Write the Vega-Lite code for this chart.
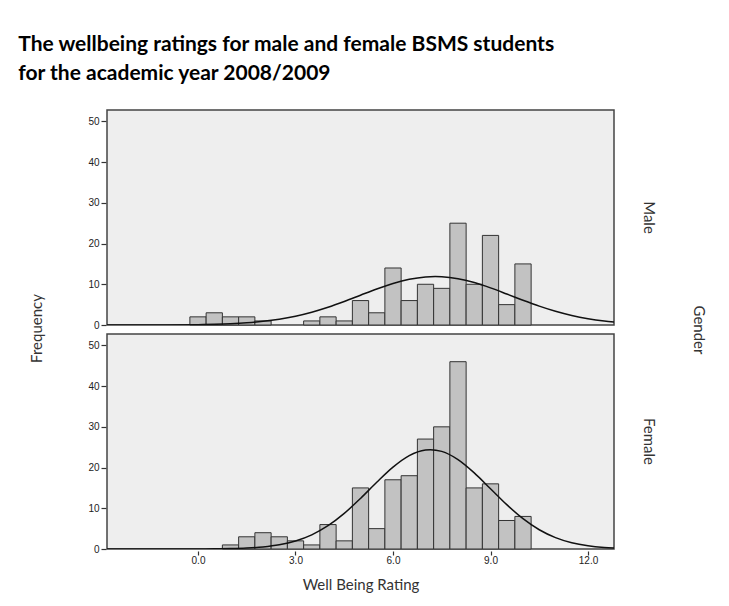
{
  "$schema": "https://vega.github.io/schema/vega-lite/v6.json",
  "padding": {"left": 18, "top": 34, "right": 10, "bottom": 8},
  "background": "white",
  "title": {
    "text": ["The wellbeing ratings for male and female BSMS students", "for the academic year 2008/2009"],
    "anchor": "start", "frame": "bounds", "font": "Lato", "fontSize": 21, "fontWeight": "bold",
    "color": "#000000", "lineHeight": 29, "offset": 25, "dx": -10
  },
  "data": {
    "values": [
      {"kind": "bar", "gender": "Male", "start": -0.25, "end": 0.25, "count": 2},
      {"kind": "bar", "gender": "Male", "start": 0.25, "end": 0.75, "count": 3},
      {"kind": "bar", "gender": "Male", "start": 0.75, "end": 1.25, "count": 2},
      {"kind": "bar", "gender": "Male", "start": 1.25, "end": 1.75, "count": 2},
      {"kind": "bar", "gender": "Male", "start": 1.75, "end": 2.25, "count": 1},
      {"kind": "bar", "gender": "Male", "start": 3.25, "end": 3.75, "count": 1},
      {"kind": "bar", "gender": "Male", "start": 3.75, "end": 4.25, "count": 2},
      {"kind": "bar", "gender": "Male", "start": 4.25, "end": 4.75, "count": 1},
      {"kind": "bar", "gender": "Male", "start": 4.75, "end": 5.25, "count": 6},
      {"kind": "bar", "gender": "Male", "start": 5.25, "end": 5.75, "count": 3},
      {"kind": "bar", "gender": "Male", "start": 5.75, "end": 6.25, "count": 14},
      {"kind": "bar", "gender": "Male", "start": 6.25, "end": 6.75, "count": 6},
      {"kind": "bar", "gender": "Male", "start": 6.75, "end": 7.25, "count": 10},
      {"kind": "bar", "gender": "Male", "start": 7.25, "end": 7.75, "count": 9},
      {"kind": "bar", "gender": "Male", "start": 7.75, "end": 8.25, "count": 25},
      {"kind": "bar", "gender": "Male", "start": 8.25, "end": 8.75, "count": 10},
      {"kind": "bar", "gender": "Male", "start": 8.75, "end": 9.25, "count": 22},
      {"kind": "bar", "gender": "Male", "start": 9.25, "end": 9.75, "count": 5},
      {"kind": "bar", "gender": "Male", "start": 9.75, "end": 10.25, "count": 15},
      {"kind": "bar", "gender": "Female", "start": 0.75, "end": 1.25, "count": 1},
      {"kind": "bar", "gender": "Female", "start": 1.25, "end": 1.75, "count": 3},
      {"kind": "bar", "gender": "Female", "start": 1.75, "end": 2.25, "count": 4},
      {"kind": "bar", "gender": "Female", "start": 2.25, "end": 2.75, "count": 3},
      {"kind": "bar", "gender": "Female", "start": 2.75, "end": 3.25, "count": 2},
      {"kind": "bar", "gender": "Female", "start": 3.25, "end": 3.75, "count": 1},
      {"kind": "bar", "gender": "Female", "start": 3.75, "end": 4.25, "count": 6},
      {"kind": "bar", "gender": "Female", "start": 4.25, "end": 4.75, "count": 2},
      {"kind": "bar", "gender": "Female", "start": 4.75, "end": 5.25, "count": 15},
      {"kind": "bar", "gender": "Female", "start": 5.25, "end": 5.75, "count": 5},
      {"kind": "bar", "gender": "Female", "start": 5.75, "end": 6.25, "count": 17},
      {"kind": "bar", "gender": "Female", "start": 6.25, "end": 6.75, "count": 18},
      {"kind": "bar", "gender": "Female", "start": 6.75, "end": 7.25, "count": 27},
      {"kind": "bar", "gender": "Female", "start": 7.25, "end": 7.75, "count": 30},
      {"kind": "bar", "gender": "Female", "start": 7.75, "end": 8.25, "count": 46},
      {"kind": "bar", "gender": "Female", "start": 8.25, "end": 8.75, "count": 15},
      {"kind": "bar", "gender": "Female", "start": 8.75, "end": 9.25, "count": 16},
      {"kind": "bar", "gender": "Female", "start": 9.25, "end": 9.75, "count": 7},
      {"kind": "bar", "gender": "Female", "start": 9.75, "end": 10.25, "count": 8},
      {"kind": "curve", "gender": "Male", "x": -2.8, "count": 0.001},
      {"kind": "curve", "gender": "Male", "x": -2.0, "count": 0.004},
      {"kind": "curve", "gender": "Male", "x": -1.0, "count": 0.021},
      {"kind": "curve", "gender": "Male", "x": 0.0, "count": 0.088},
      {"kind": "curve", "gender": "Male", "x": 0.5, "count": 0.168},
      {"kind": "curve", "gender": "Male", "x": 1.0, "count": 0.308},
      {"kind": "curve", "gender": "Male", "x": 1.5, "count": 0.537},
      {"kind": "curve", "gender": "Male", "x": 2.0, "count": 0.895},
      {"kind": "curve", "gender": "Male", "x": 2.5, "count": 1.425},
      {"kind": "curve", "gender": "Male", "x": 3.0, "count": 2.168},
      {"kind": "curve", "gender": "Male", "x": 3.5, "count": 3.148},
      {"kind": "curve", "gender": "Male", "x": 4.0, "count": 4.365},
      {"kind": "curve", "gender": "Male", "x": 4.5, "count": 5.781},
      {"kind": "curve", "gender": "Male", "x": 5.0, "count": 7.311},
      {"kind": "curve", "gender": "Male", "x": 5.5, "count": 8.829},
      {"kind": "curve", "gender": "Male", "x": 6.0, "count": 10.185},
      {"kind": "curve", "gender": "Male", "x": 6.5, "count": 11.22},
      {"kind": "curve", "gender": "Male", "x": 7.0, "count": 11.8},
      {"kind": "curve", "gender": "Male", "x": 7.3, "count": 11.9},
      {"kind": "curve", "gender": "Male", "x": 7.5, "count": 11.86},
      {"kind": "curve", "gender": "Male", "x": 8.0, "count": 11.38},
      {"kind": "curve", "gender": "Male", "x": 8.5, "count": 10.42},
      {"kind": "curve", "gender": "Male", "x": 9.0, "count": 9.12},
      {"kind": "curve", "gender": "Male", "x": 9.5, "count": 7.62},
      {"kind": "curve", "gender": "Male", "x": 10.0, "count": 6.08},
      {"kind": "curve", "gender": "Male", "x": 10.5, "count": 4.635},
      {"kind": "curve", "gender": "Male", "x": 11.0, "count": 3.373},
      {"kind": "curve", "gender": "Male", "x": 11.5, "count": 2.344},
      {"kind": "curve", "gender": "Male", "x": 12.0, "count": 1.557},
      {"kind": "curve", "gender": "Male", "x": 12.5, "count": 0.987},
      {"kind": "curve", "gender": "Male", "x": 12.8, "count": 0.734},
      {"kind": "curve", "gender": "Female", "x": -2.8, "count": 0.0},
      {"kind": "curve", "gender": "Female", "x": -1.0, "count": 0.002},
      {"kind": "curve", "gender": "Female", "x": 0.0, "count": 0.014},
      {"kind": "curve", "gender": "Female", "x": 0.5, "count": 0.038},
      {"kind": "curve", "gender": "Female", "x": 1.0, "count": 0.097},
      {"kind": "curve", "gender": "Female", "x": 1.5, "count": 0.23},
      {"kind": "curve", "gender": "Female", "x": 2.0, "count": 0.506},
      {"kind": "curve", "gender": "Female", "x": 2.5, "count": 1.036},
      {"kind": "curve", "gender": "Female", "x": 3.0, "count": 1.971},
      {"kind": "curve", "gender": "Female", "x": 3.5, "count": 3.485},
      {"kind": "curve", "gender": "Female", "x": 4.0, "count": 5.72},
      {"kind": "curve", "gender": "Female", "x": 4.5, "count": 8.745},
      {"kind": "curve", "gender": "Female", "x": 5.0, "count": 12.42},
      {"kind": "curve", "gender": "Female", "x": 5.5, "count": 16.39},
      {"kind": "curve", "gender": "Female", "x": 6.0, "count": 20.11},
      {"kind": "curve", "gender": "Female", "x": 6.5, "count": 22.94},
      {"kind": "curve", "gender": "Female", "x": 7.0, "count": 24.32},
      {"kind": "curve", "gender": "Female", "x": 7.15, "count": 24.4},
      {"kind": "curve", "gender": "Female", "x": 7.5, "count": 23.97},
      {"kind": "curve", "gender": "Female", "x": 8.0, "count": 21.96},
      {"kind": "curve", "gender": "Female", "x": 8.5, "count": 18.7},
      {"kind": "curve", "gender": "Female", "x": 9.0, "count": 14.8},
      {"kind": "curve", "gender": "Female", "x": 9.5, "count": 10.89},
      {"kind": "curve", "gender": "Female", "x": 10.0, "count": 7.45},
      {"kind": "curve", "gender": "Female", "x": 10.5, "count": 4.73},
      {"kind": "curve", "gender": "Female", "x": 11.0, "count": 2.8},
      {"kind": "curve", "gender": "Female", "x": 11.5, "count": 1.538},
      {"kind": "curve", "gender": "Female", "x": 12.0, "count": 0.786},
      {"kind": "curve", "gender": "Female", "x": 12.5, "count": 0.373},
      {"kind": "curve", "gender": "Female", "x": 12.8, "count": 0.23}
    ]
  },
  "hconcat": [
    {
      "width": 1,
      "height": 436,
      "view": {"fill": "transparent", "stroke": "transparent"},
      "transform": [{"filter": "datum.kind === 'bar'"}],
      "mark": {"type": "rule", "opacity": 0},
      "encoding": {
        "y": {"field": "count", "type": "quantitative", "scale": {"domain": [0, 52.8], "nice": false},
              "axis": {"title": "Frequency", "labels": false, "ticks": false, "domain": false,
                       "titlePadding": 0, "minExtent": 0, "maxExtent": 0}}
      }
    },
    {
      "facet": {
        "row": {
          "field": "gender", "type": "nominal", "sort": ["Male", "Female"], "title": "Gender",
          "header": {
            "labelOrient": "right", "labelAngle": 90, "labelFont": "Lato", "labelFontSize": 15,
            "labelColor": "#333333", "labelPadding": 26,
            "titleOrient": "right", "titleAngle": 90, "titleFont": "Lato", "titleFontSize": 15,
            "titleFontWeight": "normal", "titleColor": "#333333", "titlePadding": 25
          }
        }
      },
      "spacing": 6,
      "spec": {
        "width": 507,
        "height": 215,
        "layer": [
          {
            "transform": [{"filter": "datum.kind === 'bar'"}],
            "mark": {"type": "bar", "fill": "#c2c2c2", "stroke": "#333333", "strokeWidth": 1},
            "encoding": {
              "x": {"field": "start", "type": "quantitative",
                    "scale": {"domain": [-2.8, 12.8], "nice": false, "zero": false},
                    "axis": {"values": [0, 3, 6, 9, 12], "format": ".1f", "title": "Well Being Rating",
                             "labelPadding": 0, "tickSize": 4, "titlePadding": 12}},
              "x2": {"field": "end"},
              "y": {"field": "count", "type": "quantitative",
                    "scale": {"domain": [0, 52.8], "nice": false},
                    "axis": {"values": [0, 10, 20, 30, 40, 50], "title": null}},
              "y2": {"datum": 0}
            }
          },
          {
            "transform": [{"filter": "datum.kind === 'curve'"}],
            "mark": {"type": "line", "color": "#111111", "strokeWidth": 1.5, "interpolate": "monotone", "clip": true},
            "encoding": {
              "x": {"field": "x", "type": "quantitative"},
              "y": {"field": "count", "type": "quantitative"}
            }
          }
        ]
      }
    }
  ],
  "spacing": 41,
  "config": {
    "view": {"fill": "#eeeeee", "stroke": "#444444", "strokeWidth": 1.5},
    "axis": {
      "grid": false, "domain": false, "tickColor": "#333333", "tickSize": 5, "tickWidth": 1.2,
      "labelFont": "Liberation Sans", "labelFontSize": 10, "labelColor": "#222222", "labelPadding": 2,
      "titleFont": "Lato", "titleFontSize": 15, "titleFontWeight": "normal", "titleColor": "#333333"
    }
  }
}
